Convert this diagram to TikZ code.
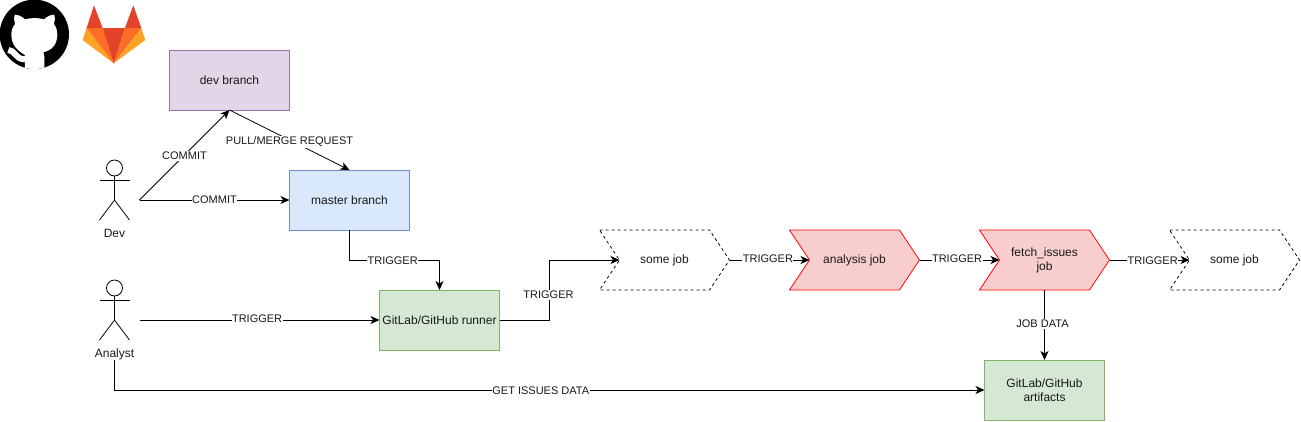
\documentclass[tikz,border=0pt]{standalone}
\usepackage{fontspec}
\setmainfont{Liberation Sans}
\usetikzlibrary{arrows.meta}
\definecolor{glred}{HTML}{E24329}
\definecolor{glor}{HTML}{FC6D26}
\definecolor{gllt}{HTML}{FCA326}
\tikzset{
  x=1pt,y=-1pt,
  every node/.style={font=\fontsize{12}{14}\selectfont,text=black!90,align=center,inner sep=0pt,outer sep=0pt},
  boxn/.style={draw,line width=.8pt,minimum width=120pt,minimum height=60pt},
  purp/.style={boxn,fill={rgb,255:red,225;green,213;blue,231},draw={rgb,255:red,150;green,115;blue,166}},
  blu/.style={boxn,fill={rgb,255:red,218;green,232;blue,252},draw={rgb,255:red,108;green,142;blue,191}},
  grn/.style={boxn,fill={rgb,255:red,213;green,232;blue,212},draw={rgb,255:red,130;green,179;blue,102}},
  conn/.style={draw=black,line width=.8pt,-{Stealth[length=9pt,width=8pt,inset=2.5pt]}},
  lbl/.style={fill=white,font=\fontsize{11}{13}\selectfont,inner xsep=.5pt,inner ysep=1pt,yshift=-1pt},
  chev/.style={line width=.8pt,line join=miter},
  chevred/.style={chev,draw=red,fill={rgb,255:red,248;green,206;blue,204}},
  chevdash/.style={chev,draw=black,fill=white,dash pattern=on 3pt off 3pt},
  actorline/.style={draw=black,line width=.8pt},
  chevtext/.style={minimum width=130pt,minimum height=60pt},
}
% #1 name, #2 left x, #3 style, #4 text
\newcommand{\chevron}[4]{%
  \path[#3] (#2,230) -- (#2+110,230) -- (#2+130,260) -- (#2+110,290) -- (#2,290) -- (#2+20,260) -- cycle;
  \node[chevtext] (#1) at (#2+65,260) {#4};
  \coordinate (#1-in) at (#2+20,260);
}
% #1 name, #2 head y
\newcommand{\actor}[2]{%
  \coordinate (#1) at (114.5,#2+32);
  \draw[actorline,fill=white] (114.5,#2) circle[radius=8];
  \draw[actorline] (114.5,#2+8) -- (114.5,#2+32);
  \draw[actorline] (99.5,#2+12) -- (129.5,#2+12);
  \draw[actorline] (99.5,#2+52) -- (114.5,#2+32) -- (129.5,#2+52);
  \coordinate (#1-r) at (139.5,#2+32);
}
\begin{document}
\begin{tikzpicture}
\useasboundingbox[fill=white] (0,0) rectangle (1301,421);
% GitHub logo
\begin{scope}[x=.3333pt,y=-.3333pt]
  \fill[black] (103,103) circle[radius=104];
  \clip (103,103) circle[radius=104];
  \fill[white] (75,210) -- (75,165)
    .. controls (50,150) and (35,135) .. (34,105)
    .. controls (34,90) and (38,82) .. (45,72)
    .. controls (41,62) and (42,52) .. (44,44)
    .. controls (56,44) and (66,50) .. (75,58)
    .. controls (92,53) and (115,53) .. (132,58)
    .. controls (141,50) and (151,44) .. (163,44)
    .. controls (165,52) and (166,62) .. (162,72)
    .. controls (169,82) and (172,92) .. (172,105)
    .. controls (171,135) and (156,150) .. (130,157)
    .. controls (133,163) and (133,168) .. (133,175) -- (133,210) -- cycle;
  \draw[white,line width=6pt] (25,150) .. controls (45,150) and (45,178) .. (75,178);
\end{scope}
% GitLab logo
\begin{scope}[x=.3333pt,y=-.3333pt]
  \fill[gllt] (260,84) -- (248,120) -- (341,190) -- cycle;
  \fill[gllt] (424,84) -- (436,120) -- (341,190) -- cycle;
  \fill[glor] (260,84) -- (308,84) -- (341,190) -- cycle;
  \fill[glor] (424,84) -- (375,84) -- (341,190) -- cycle;
  \fill[glred] (308,84) -- (375,84) -- (341,190) -- cycle;
  \fill[glred] (282,16) -- (308,84) -- (260,84) -- cycle;
  \fill[glred] (400,16) -- (424,84) -- (375,84) -- cycle;
\end{scope}
% boxes
\node[purp] (dev) at (229.5,80) {dev branch};
\node[blu] (master) at (349.5,200) {master branch};
\node[grn] (runner) at (439.5,320) {GitLab/GitHub runner};
\node[grn] (artifacts) at (1044.5,390) {GitLab/GitHub\\artifacts};
% actors
\actor{devact}{168}
\node (devlabel) at (114.5,233) {Dev};
\actor{anact}{288}
\node (anlabel) at (114.5,354) {Analyst};
% chevrons
\chevron{jobA}{599.5}{chevdash}{some job}
\chevron{jobB}{789.5}{chevred}{analysis job}
\chevron{jobC}{979.5}{chevred}{fetch\_issues\\job}
\chevron{jobD}{1169.5}{chevdash}{some job}
% connectors
\draw[conn] (devact-r) -- node[lbl,pos=.5] (l1) {COMMIT} (dev.south);
\draw[conn] (devact-r) -- node[lbl,pos=.5,yshift=1pt] (l2) {COMMIT} (master.west);
\draw[conn] (dev.south) -- node[lbl,pos=.5,yshift=-1pt] (l3) {PULL/MERGE REQUEST} (master.north);
\draw[conn] (master.south) -- ++(0,30) -| node[lbl,pos=.24] (l4) {TRIGGER} (runner.north);
\draw[conn] (anact-r) -- node[lbl,pos=.49,yshift=2pt] (l5) {TRIGGER} (runner.west);
\draw[conn] (runner.east) -- ++(50,0) |- node[lbl,pos=.22,xshift=-1pt] (l6) {TRIGGER} (jobA-in);
\draw[conn] (jobA.east) -- node[lbl,pos=.48,yshift=2pt] (l7) {TRIGGER} (jobB-in);
\draw[conn] (jobB.east) -- node[lbl,pos=.47,yshift=2pt] (l8) {TRIGGER} (jobC-in);
\draw[conn] (jobC.east) -- node[lbl,pos=.54] (l9) {TRIGGER} (jobD-in);
\draw[conn] (jobC.south) -- node[lbl,pos=.47,xshift=-2pt] (l10) {JOB DATA} (artifacts.north);
\draw[conn] (anlabel.south) |- node[lbl,pos=.745] (l11) {GET ISSUES DATA} (artifacts.west);
\end{tikzpicture}
\end{document}
